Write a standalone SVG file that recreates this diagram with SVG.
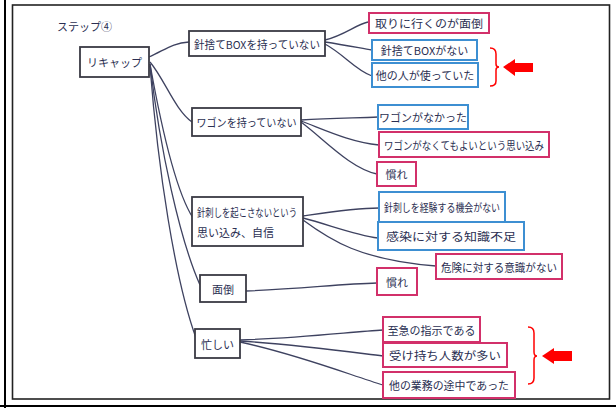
<svg xmlns="http://www.w3.org/2000/svg" width="616" height="408" viewBox="0 0 616 408">
<style>
text{font-family:"Noto Sans CJK JP","Noto Sans",sans-serif;fill:#2b2f52;font-size:11px;dominant-baseline:central;text-anchor:middle}
text.s{text-anchor:start}
.k rect{fill:#fff;stroke:#3a3a44;stroke-width:1.8}
.p rect{fill:#fff;stroke:#d2306a;stroke-width:2}
.b rect{fill:#fff;stroke:#3d8fd2;stroke-width:2}
.c path{fill:none;stroke:#3e4260;stroke-width:1.3}
.r{fill:none;stroke:#f00;stroke-width:1.5}
</style>
<rect x="0" y="0" width="616" height="408" fill="#fff"/>
<line x1="5" y1="0" x2="5" y2="408" stroke="#000" stroke-width="2"/>
<line x1="0" y1="406" x2="616" y2="406" stroke="#000" stroke-width="2"/>
<rect x="12.5" y="5" width="597" height="394" fill="none" stroke="#222" stroke-width="1.6"/>

<g class="c">
<path d="M149,57 C165,50 172,43 189,42"/>
<path d="M150,62 C165,80 175,110 192,122"/>
<path d="M150,64 C160,120 175,190 193,218"/>
<path d="M150,64 C160,150 180,240 200,285"/>
<path d="M150,66 C158,170 175,280 196,338"/>
<path d="M325,40 C345,35 355,25 368,22"/>
<path d="M325,42 C345,45 360,48 372,50"/>
<path d="M325,44 C345,55 355,70 372,76"/>
<path d="M301,120 C330,118 355,118 378,117"/>
<path d="M301,121 C325,130 350,142 379,145"/>
<path d="M301,122 C325,140 350,168 377,174"/>
<path d="M303,216 C330,212 355,208 379,208"/>
<path d="M303,218 C330,225 355,235 378,238"/>
<path d="M303,220 C330,240 360,260 436,266"/>
<path d="M246,291 C300,289 340,284 377,283"/>
<path d="M240,340 C300,338 350,332 383,330"/>
<path d="M240,341 C300,345 350,352 383,356"/>
<path d="M240,342 C300,355 350,375 383,385"/>
</g>

<g id="step"><text class="s" x="57" y="26" font-size="11">ステップ④</text></g>

<g id="n-recap" class="k"><rect x="80" y="47" width="69" height="30"/><text x="114.5" y="62" font-size="12">リキャップ</text></g>

<g id="n-box" class="k"><rect x="189" y="31" width="136" height="25"/><text x="257" y="43.5" font-size="10.5" textLength="126" lengthAdjust="spacingAndGlyphs">針捨てBOXを持っていない</text></g>
<g id="n-wagon" class="k"><rect x="192" y="108" width="109" height="28"/><text x="246.5" y="122" font-size="10.5" textLength="100" lengthAdjust="spacingAndGlyphs">ワゴンを持っていない</text></g>
<g id="n-omoi" class="k"><rect x="192" y="197" width="111" height="49"/><text class="s" x="197" y="212" font-size="10" textLength="100" lengthAdjust="spacingAndGlyphs">針刺しを起こさないという</text><text class="s" x="197" y="232" font-size="10">思い込み、自信</text></g>
<g id="n-mendo" class="k"><rect x="200" y="275" width="46" height="27"/><text x="223" y="288.5" font-size="10.5">面倒</text></g>
<g id="n-isogashii" class="k"><rect x="195" y="329" width="45" height="29"/><text x="217.5" y="343.5" font-size="10.5">忙しい</text></g>

<g id="l-toru" class="p"><rect x="369" y="13" width="120" height="20"/><text x="429" y="23" font-size="11" textLength="108" lengthAdjust="spacingAndGlyphs">取りに行くのが面倒</text></g>
<g id="l-nai" class="b"><rect x="372" y="40" width="105" height="20"/><text x="424.5" y="50" font-size="11">針捨てBOXがない</text></g>
<g id="l-tanin" class="b"><rect x="372" y="63" width="106" height="24"/><text x="425" y="75" font-size="11">他の人が使っていた</text></g>

<g id="l-wagon-nai" class="b"><rect x="378" y="105" width="90" height="24"/><text x="423" y="117" font-size="11">ワゴンがなかった</text></g>
<g id="l-wagon-omoi" class="p"><rect x="379" y="132" width="170" height="25"/><text x="464" y="144.5" font-size="10.5" textLength="160" lengthAdjust="spacingAndGlyphs">ワゴンがなくてもよいという思い込み</text></g>
<g id="l-nare1" class="p"><rect x="377" y="162" width="39" height="24"/><text x="396.5" y="174" font-size="11">慣れ</text></g>

<g id="l-keiken" class="b"><rect x="379" y="192" width="126" height="30"/><text x="442" y="207" font-size="11" textLength="116" lengthAdjust="spacingAndGlyphs">針刺しを経験する機会がない</text></g>
<g id="l-kansen" class="b"><rect x="378" y="222" width="146" height="28"/><text x="451" y="236" font-size="11" textLength="130" lengthAdjust="spacingAndGlyphs">感染に対する知識不足</text></g>
<g id="l-kiken" class="p"><rect x="436" y="254" width="126" height="25"/><text x="499" y="266.5" font-size="11" textLength="116" lengthAdjust="spacingAndGlyphs">危険に対する意識がない</text></g>

<g id="l-nare2" class="p"><rect x="377" y="268" width="40" height="27"/><text x="397" y="281.5" font-size="11">慣れ</text></g>

<g id="l-shikyu" class="p"><rect x="383" y="317" width="97" height="25"/><text x="431.5" y="329.5" font-size="11">至急の指示である</text></g>
<g id="l-ukemochi" class="p"><rect x="383" y="343" width="124" height="24"/><text x="445" y="355" font-size="11" textLength="112" lengthAdjust="spacingAndGlyphs">受け持ち人数が多い</text></g>
<g id="l-gyomu" class="p"><rect x="383" y="372" width="132" height="26"/><text x="449" y="385" font-size="11" textLength="120" lengthAdjust="spacingAndGlyphs">他の業務の途中であった</text></g>

<g id="mark1">
<path class="r" d="M490,48 Q496,48 496,54 L496,64 Q496,67 499,67 Q496,67 496,70 L496,81 Q496,86 490,86"/>
<polygon points="503,67 515,59 515,63 533,63 533,72 515,72 515,76" fill="#f00"/>
</g>
<g id="mark2">
<path class="r" d="M528,327 Q534,327 534,333 L534,352 Q534,356 537,356 Q534,356 534,360 L534,378 Q534,384 528,384"/>
<polygon points="542,356 554,348 554,351 572,351 572,361 554,361 554,364" fill="#f00"/>
</g>
</svg>
